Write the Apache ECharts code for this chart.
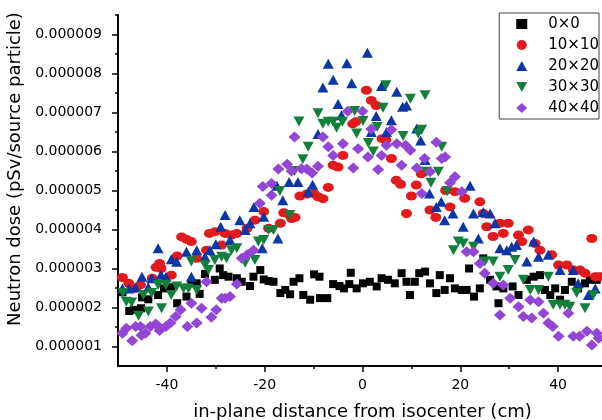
<!DOCTYPE html>
<html>
<head>
<meta charset="utf-8">
<script src="https://cdn.jsdelivr.net/npm/echarts@6/dist/echarts.min.js"></script>
<style>
html,body{margin:0;padding:0;background:#fff;}
#chart{width:602px;height:420px;}
</style>
</head>
<body>
<div id="chart"></div>
<script>
// Values: [x (cm), dose in units of 1e-6 pSv/source particle]
const UNIT = 1e-6;
const seriesNames = ['0\u00d70', '10\u00d710', '20\u00d720', '30\u00d730', '40\u00d740'];
const xMajorTicks = [-40, -20, 0, 20, 40];
const xMinorTicks = [-30, -10, 10, 30];
const yMajorTicks = [1, 2, 3, 4, 5, 6, 7, 8, 9];
const yMinorTicks = [1.5, 2.5, 3.5, 4.5, 5.5, 6.5, 7.5, 8.5, 9.5];

const data0x0 = [[-49.1,2.39],[-47.7,1.91],[-46.8,1.94],[-45.3,1.98],[-45.1,2.26],[-43.8,2.21],[-41.8,2.32],[-40.6,2.49],[-39.1,2.52],[-37.9,2.11],[-36.0,2.28],[-35.0,2.62],[-33.9,2.62],[-33.3,2.35],[-32.2,2.86],[-30.2,2.71],[-29.2,3.00],[-28.5,2.83],[-27.4,2.79],[-25.7,2.75],[-24.7,2.66],[-23.0,2.55],[-22.3,2.79],[-20.9,2.96],[-20.2,2.72],[-19.2,2.68],[-18.2,2.66],[-16.8,2.37],[-15.8,2.45],[-14.8,2.34],[-14.1,2.66],[-12.9,2.75],[-12.1,2.32],[-10.7,2.20],[-9.9,2.85],[-8.8,2.79],[-8.7,2.24],[-7.2,2.24],[-6.0,2.60],[-4.7,2.55],[-3.8,2.49],[-2.7,2.60],[-2.4,2.89],[-1.2,2.49],[0.1,2.62],[1.5,2.66],[2.9,2.54],[3.9,2.75],[5.2,2.71],[6.6,2.62],[8.0,2.88],[9.0,2.66],[9.7,2.32],[10.7,2.66],[11.6,2.88],[12.8,2.92],[13.8,2.62],[15.1,2.37],[15.8,2.83],[16.8,2.45],[17.9,2.75],[18.9,2.49],[20.3,2.45],[21.3,2.45],[21.8,3.00],[22.8,2.28],[24.0,2.49],[24.7,3.26],[26.1,2.71],[27.4,2.54],[27.8,2.11],[28.8,2.49],[30.7,2.54],[31.9,2.32],[33.6,2.71],[35.0,2.79],[36.3,2.83],[37.3,2.45],[38.4,2.32],[39.4,2.49],[40.4,2.20],[41.4,2.45],[42.8,2.66],[44.1,2.49],[45.5,2.62],[46.5,2.71],[47.9,2.71],[48.6,2.79]];

const data10x10 = [[-49.1,2.77],[-47.8,2.62],[-46.4,2.49],[-45.4,2.58],[-43.0,2.75],[-42.2,3.03],[-41.5,3.13],[-41.2,3.00],[-39.1,2.83],[-37.9,3.32],[-37.0,3.81],[-36.0,3.75],[-35.0,3.69],[-33.9,3.26],[-31.9,3.47],[-31.3,3.90],[-30.2,3.94],[-28.8,3.60],[-28.1,3.90],[-26.8,3.86],[-25.7,3.90],[-23.6,4.03],[-22.0,4.24],[-20.2,4.46],[-19.2,4.03],[-16.8,4.16],[-16.1,4.43],[-14.9,4.37],[-14.5,4.28],[-13.8,4.31],[-12.8,4.86],[-11.4,4.91],[-9.9,4.92],[-9.1,4.84],[-8.1,4.79],[-7.0,5.08],[-6.0,5.65],[-5.0,5.60],[-4.0,5.90],[-2.0,6.71],[-1.4,6.76],[0.8,7.57],[1.8,7.31],[2.8,7.18],[4.0,6.33],[4.8,6.29],[5.9,5.82],[6.9,5.26],[7.8,5.16],[9.0,4.41],[10.0,4.86],[11.0,5.14],[12.0,5.43],[13.8,4.50],[15.0,4.31],[17.0,5.00],[17.9,4.58],[18.9,4.97],[20.9,4.80],[24.0,4.71],[24.7,4.41],[25.4,4.07],[26.7,3.82],[28.1,4.16],[28.8,3.90],[29.8,4.16],[31.9,3.86],[32.6,3.69],[33.9,3.99],[35.3,3.64],[36.3,3.47],[38.7,3.35],[40.1,3.09],[41.8,3.09],[43.1,2.96],[44.5,2.96],[45.5,2.88],[46.9,3.77],[47.6,2.79],[48.6,2.79]];

const data20x20 = [[-49.1,2.49],[-47.8,2.49],[-46.4,2.52],[-45.1,2.79],[-43.8,2.52],[-43.1,2.75],[-41.8,3.52],[-41.2,2.84],[-40.2,2.79],[-39.1,3.24],[-38.0,3.17],[-36.0,3.43],[-35.0,2.79],[-33.9,3.47],[-32.2,3.30],[-31.2,3.47],[-30.0,3.62],[-29.0,4.07],[-28.1,4.37],[-27.1,3.73],[-25.1,4.24],[-24.0,3.99],[-23.0,4.16],[-22.2,4.58],[-20.5,3.52],[-20.2,4.33],[-17.5,5.12],[-17.3,3.77],[-16.3,4.75],[-15.0,5.22],[-13.2,5.22],[-11.1,4.97],[-10.2,5.15],[-9.1,6.45],[-8.1,7.64],[-7.0,8.25],[-6.0,7.84],[-5.0,7.22],[-4.3,6.93],[-3.2,8.26],[-2.2,7.75],[1.0,8.53],[1.8,6.50],[2.8,6.91],[3.9,7.68],[4.9,6.50],[5.9,6.80],[7.0,7.53],[8.2,7.15],[9.0,7.18],[11.1,6.59],[11.9,6.28],[12.8,5.78],[13.7,4.92],[15.1,4.58],[16.1,4.71],[16.8,4.24],[18.5,4.41],[20.6,4.07],[22.0,5.12],[22.7,4.41],[23.7,3.77],[24.7,4.45],[26.1,4.41],[27.1,4.16],[28.1,3.52],[29.5,3.47],[30.5,3.56],[31.5,3.60],[33.6,3.18],[35.0,3.69],[36.0,3.30],[38.0,3.35],[40.4,2.96],[43.1,2.96],[44.1,2.62],[46.2,2.32],[47.6,2.49]];

const data30x30 = [[-49.0,2.37],[-48.3,2.15],[-47.2,2.13],[-45.8,1.79],[-44.8,2.32],[-43.8,1.90],[-43.1,2.37],[-41.8,2.58],[-41.1,1.98],[-40.2,2.58],[-39.1,2.32],[-38.0,2.54],[-36.6,2.49],[-35.6,2.49],[-35.0,3.18],[-33.9,2.45],[-32.2,3.09],[-31.5,2.96],[-30.2,3.22],[-28.8,3.30],[-27.8,3.26],[-26.8,3.47],[-25.7,3.52],[-24.0,3.15],[-22.0,3.22],[-21.3,3.69],[-20.2,3.73],[-19.2,3.99],[-18.2,3.99],[-16.9,4.99],[-14.9,4.37],[-13.9,5.50],[-13.0,6.77],[-12.2,5.80],[-11.1,6.12],[-9.1,6.98],[-8.1,6.71],[-7.0,6.76],[-6.0,6.76],[-5.3,6.61],[-4.1,6.76],[-1.6,7.04],[-1.2,6.46],[0.1,6.78],[1.2,6.22],[2.2,6.00],[3.0,6.63],[4.2,7.12],[4.8,7.70],[8.3,6.40],[9.8,7.35],[11.4,6.46],[12.1,6.56],[12.8,7.44],[13.1,5.48],[14.0,5.20],[15.5,5.48],[16.2,6.12],[17.3,4.98],[18.6,3.47],[19.6,3.69],[20.6,3.64],[22.7,3.56],[25.0,3.18],[26.7,3.18],[28.1,2.79],[29.8,2.96],[31.2,3.22],[32.9,2.71],[34.3,2.45],[36.0,2.45],[38.0,2.79],[39.0,2.07],[40.4,2.07],[41.4,2.07],[42.4,2.02],[43.8,2.37],[45.5,1.98],[47.2,2.32]];

const data40x40 = [[-49.1,1.34],[-48.3,1.47],[-47.1,1.15],[-46.4,1.51],[-45.4,1.51],[-45.2,1.29],[-44.4,1.34],[-43.4,1.51],[-42.3,1.58],[-41.5,1.41],[-41.3,1.47],[-40.2,1.51],[-39.3,1.60],[-38.2,1.77],[-37.2,1.94],[-35.8,1.51],[-35.0,2.11],[-33.9,1.60],[-32.9,1.98],[-31.9,2.66],[-30.9,1.75],[-29.9,1.94],[-28.8,2.24],[-28.1,2.24],[-27.1,2.28],[-25.7,2.60],[-24.7,3.26],[-23.6,3.35],[-22.3,3.47],[-21.0,4.67],[-20.4,5.10],[-18.6,4.88],[-18.6,5.18],[-17.2,5.55],[-15.4,5.67],[-14.5,5.50],[-13.9,6.37],[-12.5,5.56],[-11.4,5.55],[-10.3,5.45],[-9.1,5.62],[-8.1,6.37],[-7.0,6.12],[-6.0,5.90],[-4.0,6.20],[-3.0,7.03],[-1.9,5.58],[-0.9,6.07],[0.0,7.03],[1.1,5.86],[1.8,6.58],[3.2,5.54],[3.9,5.90],[4.9,6.16],[5.9,6.56],[7.0,6.20],[8.0,5.65],[8.8,6.16],[9.8,6.03],[11.1,5.58],[12.1,4.92],[12.7,5.82],[13.8,5.48],[15.1,6.24],[16.2,5.82],[16.9,5.86],[17.9,5.20],[18.9,5.35],[20.3,4.97],[21.3,3.43],[22.7,3.43],[24.0,3.13],[25.0,2.88],[26.7,2.62],[28.1,1.81],[28.8,2.58],[30.2,2.24],[31.9,2.02],[32.9,1.77],[34.3,2.19],[34.6,1.73],[36.0,2.15],[37.0,1.85],[38.0,1.60],[38.9,1.51],[40.1,1.26],[42.1,1.85],[43.1,1.26],[44.4,1.26],[45.9,1.39],[46.9,1.04],[47.9,1.34],[48.3,1.21]];

const seriesData = [data0x0, data10x10, data20x20, data30x30, data40x40];
const seriesColors = ['#000000', '#e3191c', '#0b36a6', '#12803a', '#9345d6'];
const seriesSymbols = ['rect', 'circle', 'triangle', 'path://M0,0 L10,0 L5,9 Z', 'diamond'];
const seriesSizes = [[8, 8], [11, 9], [11, 10], [11, 10], [12, 11]];

const FONT = 'DejaVu Sans';
const chart = echarts.init(document.getElementById('chart'), null, {renderer: 'canvas'});

const series = seriesNames.map((name, i) => ({
  name: name,
  type: 'scatter',
  symbol: seriesSymbols[i],
  symbolSize: seriesSizes[i],
  itemStyle: {color: seriesColors[i], opacity: 1},
  data: seriesData[i].map(p => [p[0], p[1] * UNIT]),
  z: 2 + i
}));

const option = {
  animation: false,
  backgroundColor: '#ffffff',
  textStyle: {fontFamily: FONT, color: '#000'},
  grid: {left: 118, right: -5, top: 15, bottom: 54, containLabel: false, outerBoundsMode: 'none'},
  legend: {
    orient: 'vertical',
    right: 3,
    top: 13,
    padding: [3, 0, 3, 17],
    itemGap: 5,
    itemWidth: 11,
    itemHeight: 10,
    borderColor: '#444',
    borderWidth: 1,
    backgroundColor: '#fff',
    textStyle: {fontFamily: FONT, fontSize: 15, color: '#000', padding: [0, 0, 0, 16], lineHeight: 16},
    data: seriesNames
  },
  xAxis: [
    {
      type: 'value', min: -50, max: 50, interval: 10, position: 'bottom',
      axisLine: {show: true, onZero: false, lineStyle: {color: '#000', width: 2}},
      axisTick: {show: true, inside: false, length: 6, lineStyle: {color: '#000', width: 1.5}, customValues: xMajorTicks},
      axisLabel: {show: true, customValues: xMajorTicks, margin: 12, fontSize: 14, color: '#000', fontFamily: FONT},
      splitLine: {show: false},
      name: 'in-plane distance from isocenter (cm)',
      nameLocation: 'middle', nameGap: 37,
      nameTextStyle: {fontSize: 18, color: '#000', fontFamily: FONT}
    },
    {
      type: 'value', min: -50, max: 50, interval: 10, position: 'bottom',
      axisLine: {show: false, onZero: false},
      axisTick: {show: true, inside: false, length: 3, lineStyle: {color: '#000', width: 1.5}, customValues: xMinorTicks},
      axisLabel: {show: false},
      splitLine: {show: false}
    }
  ],
  yAxis: [
    {
      type: 'value', min: 0.5 * UNIT, max: 9.5 * UNIT, interval: 0.5 * UNIT, position: 'left',
      axisLine: {show: true, onZero: false, lineStyle: {color: '#000', width: 2}},
      axisTick: {show: true, inside: false, length: 6, lineStyle: {color: '#000', width: 1.5}, customValues: yMajorTicks.map(v => v * UNIT)},
      axisLabel: {show: true, customValues: yMajorTicks.map(v => v * UNIT), margin: 16, fontSize: 14, color: '#000', fontFamily: FONT,
        formatter: v => v.toFixed(6)},
      splitLine: {show: false},
      name: 'Neutron dose (pSv/source particle)',
      nameLocation: 'middle', nameGap: 86, nameRotate: 90,
      nameTextStyle: {fontSize: 18, color: '#000', fontFamily: FONT, padding: [0, 0, 0, 43]}
    },
    {
      type: 'value', min: 0.5 * UNIT, max: 9.5 * UNIT, interval: 0.5 * UNIT, position: 'left',
      axisLine: {show: false, onZero: false},
      axisTick: {show: true, inside: false, length: 3, lineStyle: {color: '#000', width: 1.5}, customValues: yMinorTicks.map(v => v * UNIT)},
      axisLabel: {show: false},
      splitLine: {show: false}
    }
  ],
  series: series
};
chart.setOption(option);
</script>
</body>
</html>
